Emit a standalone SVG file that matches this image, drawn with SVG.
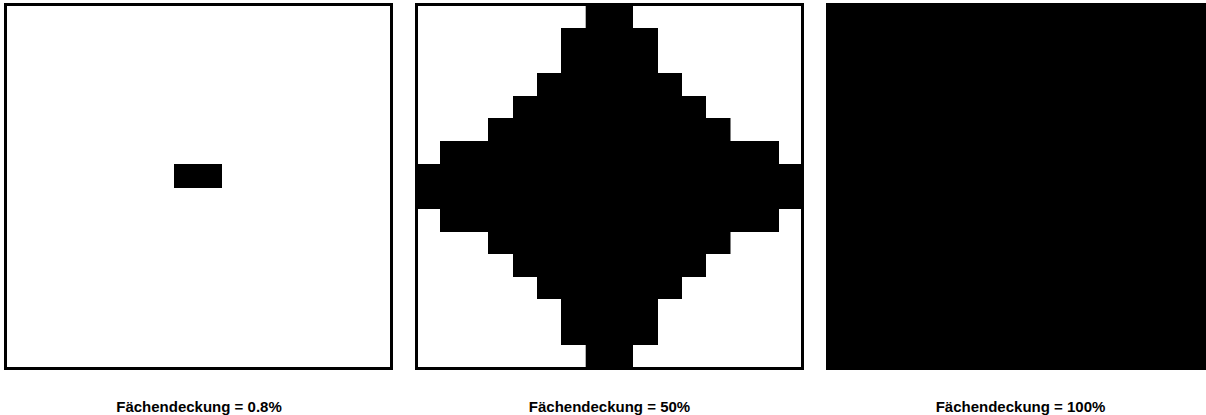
<svg xmlns="http://www.w3.org/2000/svg" width="1206" height="415" viewBox="0 0 1206 415">
<style>
.frame{fill:#fff;stroke:#000;stroke-width:3}
.ink{fill:#000}
.lbl{font-family:"Liberation Sans",Arial,sans-serif;font-weight:bold;font-size:15px;fill:#000;text-anchor:middle}
</style>
<rect width="1206" height="415" fill="#fff"/>
<g id="panel1">
<rect class="frame" x="5.5" y="4.5" width="386" height="364"/>
<rect class="ink" x="174" y="164" width="48" height="24"/>
<text class="lbl" x="199" y="411.5">Fächendeckung = 0.8%</text>
</g>
<g id="panel2">
<rect class="frame" x="416.5" y="4.5" width="386" height="364"/>
<polygon class="ink" points="585.7,6 633,6 633,28 658,28 658,73 682,73 682,96 706,96 706,118 730.5,118 730.5,141 779,141 779,164 802,164 802,209 779,209 779,232 730.5,232 730.5,254 706,254 706,277 682,277 682,299 658,299 658,345 633,345 633,368 585.7,368 585.7,345 561,345 561,299 537,299 537,277 513,277 513,254 488,254 488,232 440,232 440,209 418,209 418,164 440,164 440,141 488,141 488,118 513,118 513,96 537,96 537,73 561,73 561,28 585.7,28"/>
<text class="lbl" x="609.5" y="411.5">Fächendeckung = 50%</text>
</g>
<g id="panel3">
<rect class="ink" x="826" y="3" width="389" height="367"/>
<text class="lbl" x="1020.5" y="411.5">Fächendeckung = 100%</text>
</g>
<g id="connectors"/>
</svg>
